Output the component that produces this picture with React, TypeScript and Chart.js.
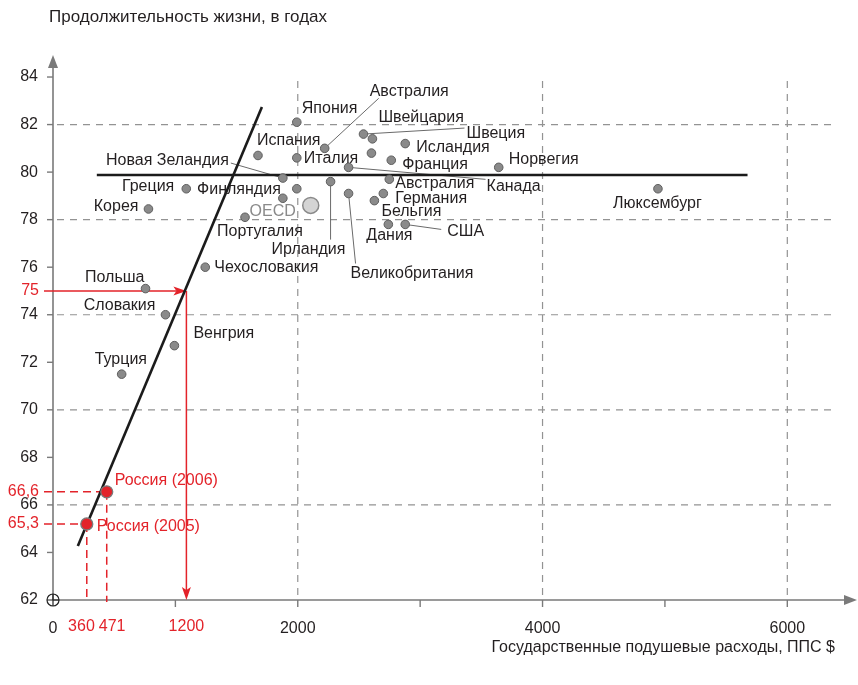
import { useEffect, useRef } from "react";
import { Chart, registerables } from "chart.js";

Chart.register(...registerables);

// ---------- data ----------
const countryNames = ["Япония", "Австралия", "Швеция", "Швейцария", "Исландия", "Испания", "Италия", "", "Франция", "Норвегия", "Канада", "Новая Зеландия", "Финляндия", "", "Португалия", "Ирландия", "Великобритания", "Австралия", "Германия", "Бельгия", "Дания", "США", "Люксембург", "Греция", "Корея", "Чехословакия", "Польша", "Словакия", "Венгрия", "Турция"];
const spending = [1992, 2220, 2537, 2610, 2878, 1675, 1992, 2602, 2764, 3642, 2415, 1878, 1992, 1878, 1569, 2268, 2415, 2748, 2699, 2626, 2740, 2878, 4943, 1089, 780, 1244, 756, 919, 992, 561];
const lifeExpectancy = [82.1, 81.0, 81.6, 81.4, 81.2, 80.7, 80.6, 80.8, 80.5, 80.2, 80.2, 79.75, 79.3, 78.9, 78.1, 79.6, 79.1, 79.7, 79.1, 78.8, 77.8, 77.8, 79.3, 79.3, 78.45, 76.0, 75.1, 74.0, 72.7, 71.5];

const oecdName = "OECD";
const oecdSpending = [2106];
const oecdLife = [78.6];

const russiaNames = ["Россия (2005)", "Россия (2006)"];
const russiaSpending = [276, 439];
const russiaLife = [65.2, 66.55];
const russiaSpendingLabels = ["360", "471"];
const russiaLifeLabels = ["65,3", "66,6"];

const thresholdLife = 75;
const thresholdLifeLabel = "75";
const thresholdSpending = 1090;
const thresholdSpendingLabel = "1200";

const trendX = [203, 1707];
const trendY = [64.27, 82.74];
const averageX = [358, 5675];
const averageY = [79.88, 79.88];

const yTicks = [62, 64, 66, 68, 70, 72, 74, 76, 78, 80, 82, 84];
const xTicks = [0, 1000, 2000, 3000, 4000, 5000, 6000];
const xLabeled = [0, 2000, 4000, 6000];
const yGrid = [66, 70, 74, 78, 82];
const xGrid = [2000, 4000, 6000];

const yTitle = "Продолжительность жизни, в годах";
const xTitle = "Государственные подушевые расходы, ППС $";

// ---------- layout (pixel offsets of labels relative to their dot) ----------
type Lab = { dx: number; dy: number; align: CanvasTextAlign; lx?: number; ly?: number } | null;
const labelLayout: Lab[] = [
  { dx: 5, dy: -14, align: "left" },
  { dx: 45, dy: -57, align: "left", lx: 54, ly: -50 },
  { dx: 103, dy: 0, align: "left", lx: 101, ly: -6 },
  { dx: 6, dy: -21, align: "left" },
  { dx: 11, dy: 4, align: "left" },
  { dx: -1, dy: -15, align: "left" },
  { dx: 7, dy: 1, align: "left" },
  null,
  { dx: 11, dy: 4, align: "left" },
  { dx: 10, dy: -8, align: "left" },
  { dx: 138, dy: 19, align: "left", lx: 137, ly: 12 },
  { dx: -54, dy: -17, align: "right", lx: -52, ly: -15 },
  { dx: -16, dy: 1, align: "right" },
  null,
  { dx: -28, dy: 14, align: "left" },
  { dx: -59, dy: 68, align: "left", lx: 0, ly: 58 },
  { dx: 2, dy: 80, align: "left", lx: 7, ly: 70 },
  { dx: 6, dy: 4, align: "left" },
  { dx: 12, dy: 5, align: "left" },
  { dx: 7, dy: 11, align: "left" },
  { dx: -22, dy: 11, align: "left" },
  { dx: 42, dy: 7, align: "left", lx: 36, ly: 5 },
  { dx: -45, dy: 15, align: "left" },
  { dx: -12, dy: -2, align: "right" },
  { dx: -10, dy: -2, align: "right" },
  { dx: 9, dy: 0, align: "left" },
  { dx: -1, dy: -11, align: "right" },
  { dx: -10, dy: -9, align: "right" },
  { dx: 19, dy: -12, align: "left" },
  { dx: -27, dy: -15, align: "left" },
];
const oecdLayout = { dx: -15, dy: 6, align: "right" as CanvasTextAlign };
const russiaLayout = [
  { dx: 10, dy: 3 },
  { dx: 8, dy: -11 },
];

const FAMILY = '"Liberation Sans", Arial, sans-serif';
const FONT = "16px " + FAMILY;
const TITLE_FONT = "17px " + FAMILY;
const TEXT = "#231f20";
const AXIS = "#7a7a7a";
const GRID = "#939393";
const RED = "#e3232a";
const GRID_TOP = 81;
const GRID_RIGHT = 834;

const decorPlugin = {
  id: "decor",
  beforeDatasetsDraw(chart: any) {
    const ctx: CanvasRenderingContext2D = chart.ctx;
    const xs = chart.scales.x;
    const ys = chart.scales.y;
    const px = (v: number) => xs.getPixelForValue(v);
    const py = (v: number) => ys.getPixelForValue(v);
    const x0 = px(0);
    const y0 = py(62);
    ctx.save();
    // grid
    ctx.strokeStyle = GRID;
    ctx.lineWidth = 1.2;
    ctx.setLineDash([7, 6]);
    yGrid.forEach((v) => {
      ctx.beginPath();
      ctx.moveTo(x0 + 4, py(v));
      ctx.lineTo(GRID_RIGHT, py(v));
      ctx.stroke();
    });
    xGrid.forEach((v) => {
      ctx.beginPath();
      ctx.moveTo(px(v), GRID_TOP);
      ctx.lineTo(px(v), y0 - 2);
      ctx.stroke();
    });
    ctx.setLineDash([]);
    // axes
    ctx.strokeStyle = AXIS;
    ctx.fillStyle = AXIS;
    ctx.lineWidth = 1.6;
    ctx.beginPath();
    ctx.moveTo(x0, y0);
    ctx.lineTo(x0, 64);
    ctx.moveTo(x0, y0);
    ctx.lineTo(848, y0);
    ctx.stroke();
    ctx.beginPath();
    ctx.moveTo(x0, 55);
    ctx.lineTo(x0 - 5, 68);
    ctx.lineTo(x0 + 5, 68);
    ctx.closePath();
    ctx.fill();
    ctx.beginPath();
    ctx.moveTo(857, y0);
    ctx.lineTo(844, y0 - 5);
    ctx.lineTo(844, y0 + 5);
    ctx.closePath();
    ctx.fill();
    // tick marks
    ctx.lineWidth = 1.4;
    yTicks.forEach((v) => {
      if (v === 62) return;
      ctx.beginPath();
      ctx.moveTo(x0 - 6, py(v));
      ctx.lineTo(x0, py(v));
      ctx.stroke();
    });
    xTicks.forEach((v) => {
      if (v === 0) return;
      ctx.beginPath();
      ctx.moveTo(px(v), y0);
      ctx.lineTo(px(v), y0 + 7);
      ctx.stroke();
    });
    // origin circle
    ctx.strokeStyle = "#222";
    ctx.lineWidth = 1.2;
    ctx.beginPath();
    ctx.arc(x0, y0, 6, 0, Math.PI * 2);
    ctx.stroke();
    ctx.beginPath();
    ctx.moveTo(x0 - 6, y0);
    ctx.lineTo(x0 + 6, y0);
    ctx.moveTo(x0, y0 - 6);
    ctx.lineTo(x0, y0 + 6);
    ctx.stroke();

    // leader lines
    ctx.strokeStyle = "#6a6a6a";
    ctx.lineWidth = 1;
    labelLayout.forEach((l, i) => {
      if (!l || l.lx === undefined || l.ly === undefined) return;
      const cx = px(spending[i]);
      const cy = py(lifeExpectancy[i]);
      ctx.beginPath();
      ctx.moveTo(cx, cy);
      ctx.lineTo(cx + l.lx, cy + l.ly);
      ctx.stroke();
    });

    // red annotations
    ctx.strokeStyle = RED;
    ctx.fillStyle = RED;
    ctx.lineWidth = 1.5;
    const tx = px(thresholdSpending);
    const ty = py(thresholdLife);
    ctx.beginPath();
    ctx.moveTo(x0 - 9, ty);
    ctx.lineTo(tx - 10, ty);
    ctx.moveTo(tx, ty);
    ctx.lineTo(tx, y0 - 8);
    ctx.stroke();
    ctx.beginPath();
    ctx.moveTo(tx, ty);
    ctx.lineTo(tx - 13, ty - 4.5);
    ctx.lineTo(tx - 10, ty);
    ctx.lineTo(tx - 13, ty + 4.5);
    ctx.closePath();
    ctx.fill();
    ctx.beginPath();
    ctx.moveTo(tx, y0);
    ctx.lineTo(tx - 4.5, y0 - 13);
    ctx.lineTo(tx, y0 - 10);
    ctx.lineTo(tx + 4.5, y0 - 13);
    ctx.closePath();
    ctx.fill();
    ctx.setLineDash([8, 5]);
    russiaSpending.forEach((s, i) => {
      const rx = px(s);
      const ry = py(russiaLife[i]);
      ctx.beginPath();
      ctx.moveTo(x0 - 9, ry);
      ctx.lineTo(rx, ry);
      ctx.moveTo(rx, ry);
      ctx.lineTo(rx, y0 + 2);
      ctx.stroke();
    });
    ctx.setLineDash([]);
    ctx.restore();
  },
  afterDatasetsDraw(chart: any) {
    const ctx: CanvasRenderingContext2D = chart.ctx;
    const xs = chart.scales.x;
    const ys = chart.scales.y;
    const px = (v: number) => xs.getPixelForValue(v);
    const py = (v: number) => ys.getPixelForValue(v);
    const x0 = px(0);
    const y0 = py(62);
    ctx.save();
    ctx.font = FONT;
    ctx.textBaseline = "middle";
    ctx.fillStyle = TEXT;
    labelLayout.forEach((l, i) => {
      if (!l || !countryNames[i]) return;
      ctx.textAlign = l.align;
      ctx.fillText(countryNames[i], px(spending[i]) + l.dx, py(lifeExpectancy[i]) + l.dy);
    });
    ctx.fillStyle = "#8a8a8a";
    ctx.textAlign = oecdLayout.align;
    ctx.fillText(oecdName, px(oecdSpending[0]) + oecdLayout.dx, py(oecdLife[0]) + oecdLayout.dy);

    // red texts
    ctx.fillStyle = RED;
    ctx.textAlign = "left";
    russiaNames.forEach((n, i) => {
      ctx.fillText(n, px(russiaSpending[i]) + russiaLayout[i].dx, py(russiaLife[i]) + russiaLayout[i].dy);
    });
    ctx.textAlign = "right";
    ctx.fillText(thresholdLifeLabel, x0 - 14, py(thresholdLife));
    russiaLifeLabels.forEach((t, i) => ctx.fillText(t, x0 - 14, py(russiaLife[i])));
    const ly = y0 + 27;
    ctx.fillText(russiaSpendingLabels[0], px(russiaSpending[0]) + 8, ly);
    ctx.textAlign = "left";
    ctx.fillText(russiaSpendingLabels[1], px(russiaSpending[1]) - 8, ly);
    ctx.textAlign = "center";
    ctx.fillText(thresholdSpendingLabel, px(thresholdSpending), ly);

    // titles
    ctx.fillStyle = TEXT;
    ctx.font = TITLE_FONT;
    ctx.textAlign = "left";
    ctx.fillText(yTitle, 49, 17);
    ctx.font = FONT;
    ctx.textAlign = "right";
    ctx.fillText(xTitle, 835, 648);
    ctx.restore();
  },
};

export default function App() {
  const ref = useRef<HTMLCanvasElement | null>(null);
  useEffect(() => {
    if (!ref.current) return;
    const pts = spending.map((x, i) => ({ x, y: lifeExpectancy[i] }));
    const chart = new Chart(ref.current, {
      type: "scatter",
      data: {
        datasets: [
          {
            label: "trend",
            data: trendX.map((x, i) => ({ x, y: trendY[i] })),
            showLine: true,
            borderColor: "#1b1b1b",
            borderWidth: 2.6,
            pointRadius: 0,
            order: 4,
          },
          {
            label: "average",
            data: averageX.map((x, i) => ({ x, y: averageY[i] })),
            showLine: true,
            borderColor: "#1b1b1b",
            borderWidth: 2.6,
            pointRadius: 0,
            order: 5,
          },
          {
            label: "countries",
            data: pts,
            pointRadius: 4.3,
            backgroundColor: "#8a8a8a",
            borderColor: "#5e5e5e",
            borderWidth: 1,
            order: 3,
          },
          {
            label: "OECD",
            data: oecdSpending.map((x, i) => ({ x, y: oecdLife[i] })),
            pointRadius: 8,
            backgroundColor: "#d4d4d4",
            borderColor: "#8a8a8a",
            borderWidth: 1.5,
            order: 2,
          },
          {
            label: "Russia",
            data: russiaSpending.map((x, i) => ({ x, y: russiaLife[i] })),
            pointRadius: 6,
            backgroundColor: RED,
            borderColor: "#7a7a7a",
            borderWidth: 1.3,
            order: 1,
          },
        ],
      },
      options: {
        animation: false,
        responsive: false,
        events: [],
        layout: { padding: { left: 0, right: 5.5, top: 63, bottom: 0 } },
        plugins: { legend: { display: false }, tooltip: { enabled: false } },
        scales: {
          x: {
            type: "linear",
            min: 0,
            max: 6500,
            grid: { display: false, drawTicks: false },
            border: { display: false },
            afterBuildTicks: (s: any) => {
              s.ticks = xTicks.map((v) => ({ value: v }));
            },
            afterFit: (s: any) => {
              s.height = 85;
            },
            ticks: {
              autoSkip: false,
              maxRotation: 0,
              padding: 19,
              color: TEXT,
              font: { family: FAMILY, size: 16 },
              callback: (v: any) => (xLabeled.includes(Number(v)) ? String(v) : ""),
            },
          },
          y: {
            type: "linear",
            min: 62,
            max: 84.59,
            grid: { display: false, drawTicks: false },
            border: { display: false },
            afterBuildTicks: (s: any) => {
              s.ticks = yTicks.map((v) => ({ value: v }));
            },
            afterFit: (s: any) => {
              s.width = 53;
            },
            ticks: {
              autoSkip: false,
              padding: 15,
              color: TEXT,
              font: { family: FAMILY, size: 16 },
              callback: (v: any) => String(v),
            },
          },
        },
      },
      plugins: [decorPlugin],
    });
    return () => chart.destroy();
  }, []);
  return (
    <div style={{ position: "absolute", left: 0, top: 0, width: 858, height: 685, background: "#fff" }}>
      <canvas ref={ref} width={858} height={685} />
    </div>
  );
}
